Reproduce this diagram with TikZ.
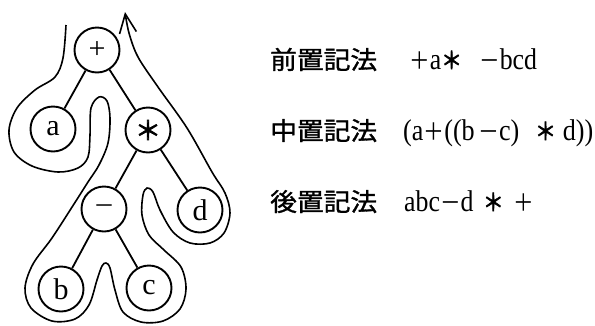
\documentclass[tikz,border=0pt]{standalone}
\usepackage{fontspec}
\setmainfont{Liberation Serif}
\newfontfamily\jpfont[FakeBold=1.2]{Noto Sans CJK JP}
\newfontfamily\jpsym{Noto Sans CJK JP}
\newfontfamily\jpheavy[FakeBold=3]{Noto Sans CJK JP}
\usetikzlibrary{arrows.meta}
\newcommand{\jsym}[1]{{\jpsym\fontsize{24}{26}\selectfont #1}}
\newcommand{\jbold}[1]{{\jpheavy\fontsize{24}{26}\selectfont #1}}
\begin{document}
\begin{tikzpicture}[x=1pt,y=-1pt,
  tn/.style={circle,draw,line width=1.9pt,minimum size=45pt,inner sep=0pt,font=\fontsize{30}{32}\selectfont},
  edge/.style={line width=1.8pt},
  tour/.style={line width=1.6pt},
  lbl/.style={anchor=base west,inner sep=0pt,font=\jpfont\fontsize{25}{28}\selectfont},
  fml/.style={anchor=base west,inner sep=0pt,font=\fontsize{30}{32}\selectfont}]
\useasboundingbox (0,0) rectangle (595,325);
% tree
\node[tn] (p) at (97,50) {+};
\node[tn] (a) at (53,129) {a};
\node[tn] (s) at (148,130) {{\jpheavy\fontsize{26}{28}\selectfont ＊}};
\node[tn] (m) at (104,209) {–};
\node[tn] (d) at (200,210) {d};
\node[tn] (b) at (61,289) {b};
\node[tn] (c) at (149,288) {c};
\draw[edge] (p) -- (a);
\draw[edge] (p) -- (s);
\draw[edge] (s) -- (m);
\draw[edge] (s) -- (d);
\draw[edge] (m) -- (b);
\draw[edge] (m) -- (c);
% traversal
\draw[tour,-{Straight Barb[length=19pt,width=17pt]}] plot[smooth,tension=0.55] coordinates {
(66,25) (63,58) (55,77) (35,90) (17,108) (9,130) (14,152) (32,166) (58,172) (78,168) (88,157) (90,135) (91,108) (99,97) (107,101) (110,118) (108,143) (99,165) (88,182) (74,204) (52,238) (33,264) (25,288) (31,308) (52,321) (75,319) (89,305) (97,280) (102,266) (106,263) (110,268) (115,290) (123,312) (141,322) (163,321) (180,309) (186,289) (181,267) (164,250) (149,235) (142,215) (143,195) (147,188) (153,192) (160,210) (173,232) (190,243) (210,243) (224,233) (230,213) (225,193) (212,172) (187,128) (158,87) (138,57) (129,33) (125,12)};
% texts
\node[lbl] (l1) at (270,69) {\scalebox{1.07}[1]{前置記法}};
\node[lbl] (l2) at (270,140) {\scalebox{1.07}[1]{中置記法}};
\node[lbl] (l3) at (270,211) {\scalebox{1.07}[1]{後置記法}};
\node[fml] (f1) at (409,69) {\scalebox{0.86}[1]{\jsym{＋}a\jbold{＊}\hspace{20pt}\jsym{－}bcd}};
\node[fml] (f2) at (403,140) {\scalebox{0.87}[1]{(a\jsym{＋}((b\hspace{4pt}\jsym{－}c)\hspace{18pt}\jbold{＊}\hspace{8pt}d))}};
\node[fml] (f3) at (404,211) {\scalebox{0.86}[1]{abc\jsym{－}d\hspace{11pt}\jbold{＊}\hspace{11pt}\jsym{＋}}};
\end{tikzpicture}
\end{document}
